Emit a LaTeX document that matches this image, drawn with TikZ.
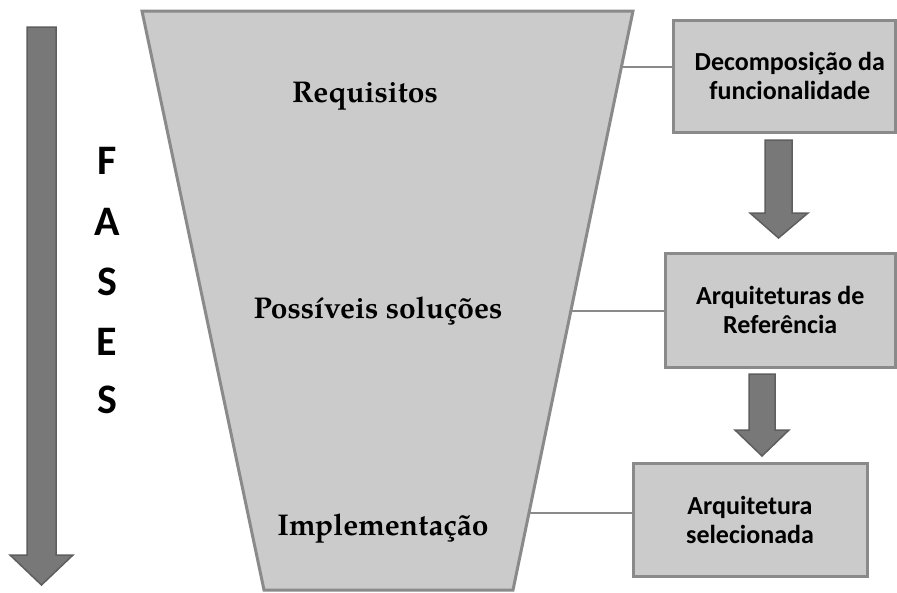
\documentclass[tikz,border=0pt]{standalone}
\usepackage{fontspec}
\newfontfamily\boxfont{Carlito}
\newfontfamily\phasefont{TeX Gyre Pagella}
\definecolor{funnelfill}{HTML}{CBCBCB}
\definecolor{edgegray}{HTML}{8A8A8A}
\definecolor{arrowfill}{HTML}{787878}
\definecolor{arrowedge}{HTML}{5E5E5E}
\begin{document}
\begin{tikzpicture}[x=1pt,y=-1pt,
  panel/.style={draw=edgegray,line width=3pt,fill=funnelfill},
  infobox/.style={panel,rectangle,inner sep=0pt,align=center,
    font=\boxfont\bfseries\fontsize{26}{29}\selectfont},
  blockarrow/.style={draw=arrowedge,line width=1.5pt,fill=arrowfill,line join=miter},
  link/.style={draw=edgegray,line width=2.5pt},
  phase/.style={anchor=base,font=\phasefont\bfseries\fontsize{30}{34}\selectfont},
  letter/.style={anchor=base,font=\boxfont\bfseries\fontsize{42}{42}\selectfont}]
\useasboundingbox (0,0) rectangle (897,592);
\fill[white] (0,0) rectangle (897,592);

% timeline arrow on the left
\draw[blockarrow] (27,27) -- (56,27) -- (56,555) -- (73,555) -- (41.5,585)
  -- (10,555) -- (27,555) -- cycle;
\foreach \ch/\yy in {F/174,A/235,S/295,E/355,S/413}
  \node[letter] at (107,\yy) {\ch};

% funnel
\draw[panel,line join=miter] (142,11) -- (633,11) -- (513,590) -- (264,590) -- cycle;
\coordinate (f1) at (621.4,67);
\coordinate (f2) at (570.8,311);
\coordinate (f3) at (529,513);

\node[phase] (req) at (365,102) {Requisitos};
\node[phase] (sol) at (378,318) {Possíveis soluções};
\node[phase] (imp) at (383,535) {Implementação};

% result boxes
\node[infobox,minimum width=222.5pt,minimum height=112pt] (b1) at (784.25,76)
  {\hspace*{11pt}Decomposição da\\\hspace*{11pt}funcionalidade};
\node[infobox,minimum width=230.5pt,minimum height=114pt] (b2) at (780.25,310)
  {Arquiteturas de\\Referência};
\node[infobox,minimum width=234pt,minimum height=113pt] (b3) at (750,519.5)
  {Arquitetura\\selecionada};

% links from funnel to boxes
\draw[link] (f1) -- (f1 -| b1.west);
\draw[link] (f2) -- (f2 -| b2.west);
\draw[link] (f3) -- (f3 -| b3.west);

% block arrows between boxes
\draw[blockarrow] (765,140) -- (792,140) -- (792,213) -- (808,213) -- (778.5,238)
  -- (750,213) -- (765,213) -- cycle;
\draw[blockarrow] (749,374) -- (775,374) -- (775,430) -- (789,430) -- (762,456)
  -- (735,430) -- (749,430) -- cycle;
\end{tikzpicture}
\end{document}
